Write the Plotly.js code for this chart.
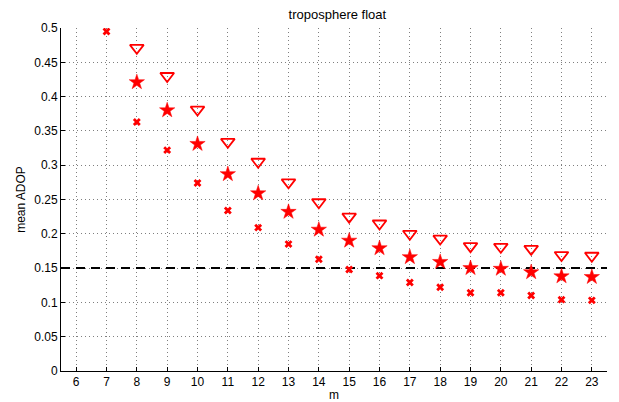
<!DOCTYPE html>
<html>
<head>
<meta charset="utf-8">
<script src="https://cdn.plot.ly/plotly-3.0.1.min.js"></script>
<style>
  html, body { margin: 0; padding: 0; background: #fff; }
  #chart { width: 619px; height: 402px; }
</style>
</head>
<body>
<div id="chart"></div>
<script>
// Number of satellites m
const mTri = [8, 9, 10, 11, 12, 13, 14, 15, 16, 17, 18, 19, 20, 21, 22, 23];
const adopTri = [0.471, 0.430, 0.381, 0.334, 0.305, 0.275, 0.246, 0.225, 0.215, 0.200, 0.193, 0.182, 0.181, 0.178, 0.169, 0.168];

const mStar = [8, 9, 10, 11, 12, 13, 14, 15, 16, 17, 18, 19, 20, 21, 22, 23];
const adopStar = [0.421, 0.380, 0.331, 0.287, 0.259, 0.232, 0.206, 0.190, 0.179, 0.166, 0.159, 0.150, 0.149, 0.144, 0.138, 0.137];

const mCross = [7, 8, 9, 10, 11, 12, 13, 14, 15, 16, 17, 18, 19, 20, 21, 22, 23];
const adopCross = [0.495, 0.363, 0.322, 0.274, 0.234, 0.209, 0.185, 0.163, 0.148, 0.139, 0.129, 0.122, 0.114, 0.114, 0.110, 0.104, 0.103];

// Threshold level
const thresholdX = [5.5, 23.5];
const thresholdY = [0.15, 0.15];

const xTicks = [6, 7, 8, 9, 10, 11, 12, 13, 14, 15, 16, 17, 18, 19, 20, 21, 22, 23];
const yTicks = [0, 0.05, 0.1, 0.15, 0.2, 0.25, 0.3, 0.35, 0.4, 0.45, 0.5];
const yTickText = ['0', '0.05', '0.1', '0.15', '0.2', '0.25', '0.3', '0.35', '0.4', '0.45', '0.5'];

const red = '#ff0000';

const traces = [
  {
    x: thresholdX, y: thresholdY, mode: 'lines', type: 'scatter',
    line: { color: '#000', width: 2, dash: '9px,6px' },
    hoverinfo: 'skip'
  },
  {
    x: mTri, y: adopTri, mode: 'markers', type: 'scatter',
    marker: { symbol: 'triangle-down-open', size: 12, color: red, line: { color: red, width: 1.8 } }
  },
  {
    x: mStar, y: adopStar, mode: 'markers', type: 'scatter',
    marker: { symbol: 'star', size: 11.5, color: red, line: { color: red, width: 0.5 } }
  },
  {
    x: mCross, y: adopCross, mode: 'markers', type: 'scatter',
    marker: { symbol: 'x', size: 7, color: red, line: { width: 0 } }
  }
];

const gridStyle = {
  showgrid: true,
  gridcolor: 'rgba(0,0,0,0.5)',
  gridwidth: 1,
  griddash: '1px,3px'
};

const layout = {
  width: 619, height: 402,
  margin: { l: 61, r: 12, t: 28, b: 31 },
  paper_bgcolor: '#fff', plot_bgcolor: '#fff',
  showlegend: false,
  font: { family: 'Liberation Sans, Arial, sans-serif', size: 12, color: '#000' },
  title: {
    text: 'troposphere float',
    font: { size: 13, color: '#000' },
    x: 0.545, xanchor: 'center', y: 0.975, yanchor: 'top'
  },
  xaxis: Object.assign({
    range: [5.5, 23.5],
    tickvals: xTicks,
    ticks: 'inside', ticklen: 4, tickcolor: '#000', tickwidth: 1,
    showline: true, linecolor: '#000', linewidth: 1,
    zeroline: false,
    tickfont: { size: 12 },
    title: { text: 'm', font: { size: 12 }, standoff: 3 }
  }, gridStyle),
  yaxis: Object.assign({
    range: [0, 0.5],
    tickvals: yTicks, ticktext: yTickText,
    ticks: 'inside', ticklen: 4, tickcolor: '#000', tickwidth: 1,
    showline: true, linecolor: '#000', linewidth: 1,
    zeroline: false,
    tickfont: { size: 12 },
    title: { text: 'mean ADOP', font: { size: 12 }, standoff: 6 }
  }, gridStyle)
};

Plotly.newPlot('chart', traces, layout, { staticPlot: true, displayModeBar: false });
</script>
</body>
</html>
